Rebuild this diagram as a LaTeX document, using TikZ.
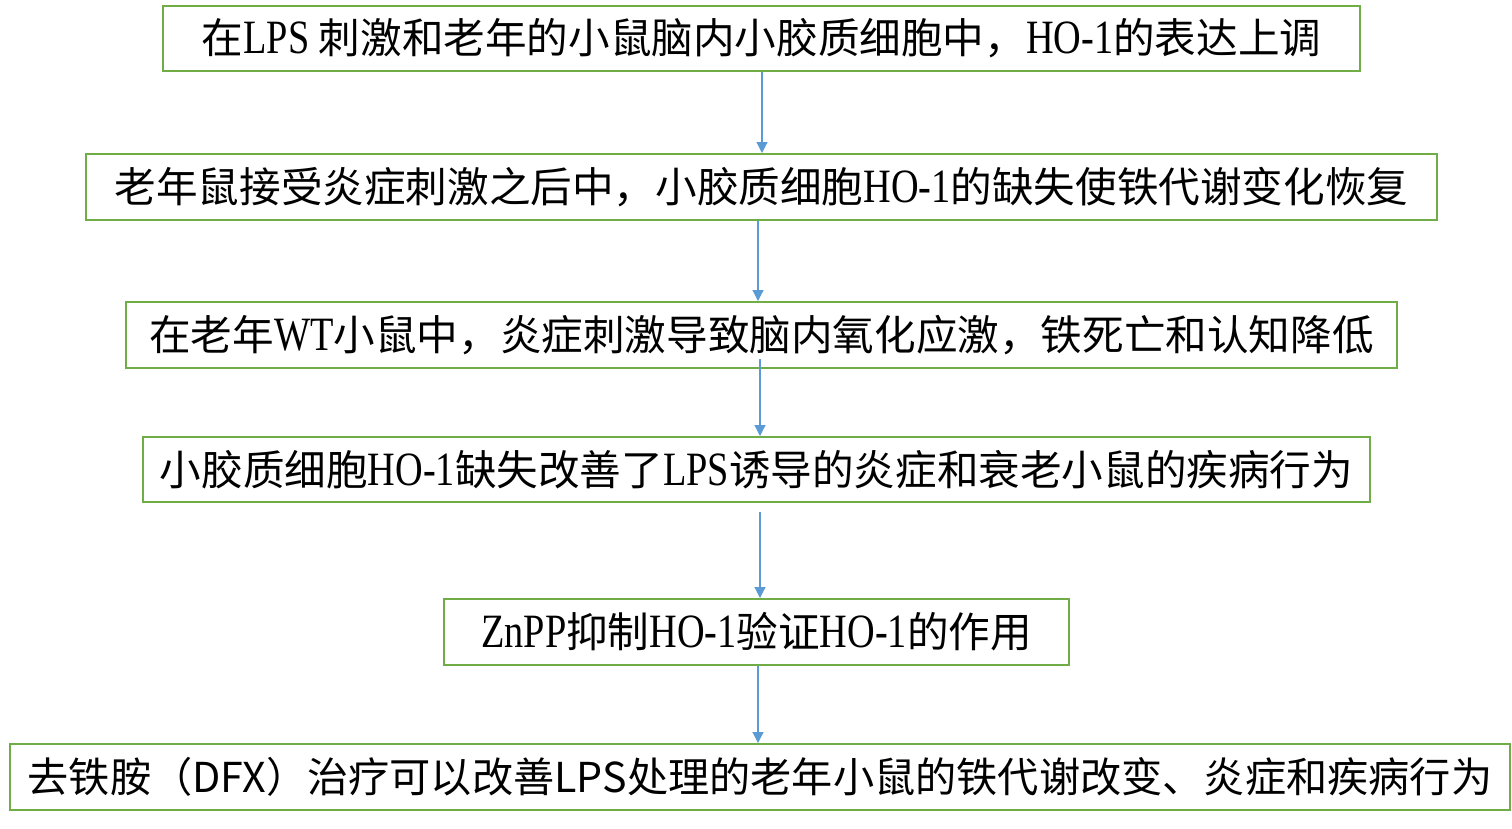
\documentclass[tikz,border=0pt]{standalone}
\usepackage{fontspec}
\setmainfont{Liberation Serif}[FakeStretch=0.8,Scale=1.15]
\newfontfamily\cjk{Noto Sans CJK SC}
\newcommand{\C}[1]{{\cjk #1}}
\usetikzlibrary{arrows.meta}
\definecolor{boxgreen}{HTML}{70AD47}
\definecolor{arrblue}{HTML}{5B9BD5}
\tikzset{
  stepbox/.style={draw=boxgreen, line width=2pt, rectangle, inner sep=0pt, align=center,
    font=\fontsize{41.6}{50}\selectfont},
  arr/.style={draw=arrblue, line width=1.2pt, -{Triangle[width=11pt,length=11pt]}}
}
\begin{document}
\begin{tikzpicture}[x=1pt,y=-1pt]
\fill[white] (0,0) rectangle (1512,828);
\useasboundingbox (0,0) rectangle (1512,828);
\node[stepbox, minimum width=1197pt, minimum height=65pt] (b1) at (761.5,38.5)
  {\C{在}LPS \C{刺激和老年的小鼠脑内小胶质细胞中，}HO-1\C{的表达上调}};
\node[stepbox, minimum width=1351pt, minimum height=66pt] (b2) at (761.5,187)
  {\C{老年鼠接受炎症刺激之后中，小胶质细胞}HO-1\C{的缺失使铁代谢变化恢复}};
\node[stepbox, minimum width=1271pt, minimum height=66pt] (b3) at (761.5,335)
  {\C{在老年}WT\C{小鼠中，炎症刺激导致脑内氧化应激，铁死亡和认知降低}};
\node[stepbox, minimum width=1227pt, minimum height=65pt] (b4) at (756.5,469.5)
  {\C{小胶质细胞}HO-1\C{缺失改善了}LPS\C{诱导的炎症和衰老小鼠的疾病行为}};
\node[stepbox, minimum width=625pt, minimum height=66pt] (b5) at (756.5,632)
  {ZnPP\C{抑制}HO-1\C{验证}HO-1\C{的作用}};
\node[stepbox, minimum width=1500pt, minimum height=66pt, font=\fontsize{41.2}{50}\selectfont\cjk] (b6) at (760,777)
  {去铁胺（DFX）治疗可以改善LPS处理的老年小鼠的铁代谢改变、炎症和疾病行为};
\coordinate (s1) at (762,0);
\coordinate (s2) at (758,0);
\coordinate (s3) at (760,359);
\coordinate (s4) at (760,512);
\coordinate (s5) at (758,0);
\draw[arr] (b1.south -| s1) -- (b2.north -| s1);
\draw[arr] (b2.south -| s2) -- (b3.north -| s2);
\draw[arr] (s3) -- (b4.north -| s3);
\draw[arr] (s4) -- (b5.north -| s4);
\draw[arr] (b5.south -| s5) -- (b6.north -| s5);
\end{tikzpicture}
\end{document}
